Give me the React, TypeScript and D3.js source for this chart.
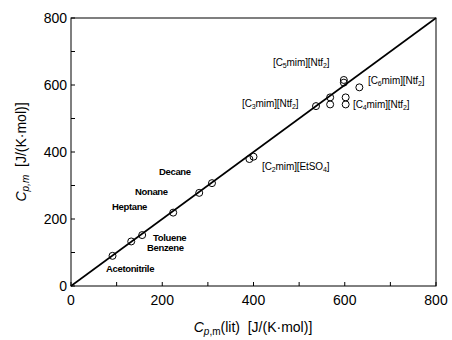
import React, { useRef, useEffect } from "react";
import * as d3 from "d3";

// literature vs. measured heat capacities
const litValues = [91, 132, 156, 224, 281, 309, 391, 400, 537, 568, 568, 602, 602, 598, 598, 632];
const measValues = [90, 133, 152, 219, 278, 307, 379, 386, 537, 563, 542, 563, 542, 615, 607, 593];

const compoundNames = ["Acetonitrile", "Benzene", "Toluene", "Heptane", "Nonane", "Decane"];
const compoundLabelX = [106, 147, 153, 112, 135, 159];
const compoundLabelY = [272, 251, 241, 210, 195, 175];

// ionic liquid labels: [prefix, sub1, middle, sub2, suffix]
const ilLabels = [
  ["[C", "5", "mim][Ntf", "2", "]"],
  ["[C", "6", "mim][Ntf", "2", "]"],
  ["[C", "3", "mim][Ntf", "2", "]"],
  ["[C", "4", "mim][Ntf", "2", "]"],
  ["[C", "2", "mim][EtSO", "4", "]"],
];
const ilLabelX = [273, 368, 242, 353, 262];
const ilLabelY = [66, 84, 107, 108, 170];

const majorTicks = [0, 200, 400, 600, 800];
const minorTicks = [100, 300, 500, 700];

function App() {
  const ref = useRef<SVGSVGElement>(null);
  const W = 452, H = 340;
  const left = 71, right = 436, top = 18, bottom = 286;

  useEffect(() => {
    const svg = d3.select(ref.current);
    svg.selectAll("*").remove();

    const x = d3.scaleLinear().domain([0, 800]).range([left, right]);
    const y = d3.scaleLinear().domain([0, 800]).range([bottom, top]);
    const font = "Liberation Sans, Arial, sans-serif";

    // frame
    svg.append("rect")
      .attr("x", left).attr("y", top)
      .attr("width", right - left).attr("height", bottom - top)
      .attr("fill", "none").attr("stroke", "black").attr("stroke-width", 1);

    // ticks
    const allTicks = majorTicks.concat(minorTicks);
    allTicks.forEach((t) => {
      svg.append("line")
        .attr("x1", x(t)).attr("x2", x(t))
        .attr("y1", bottom).attr("y2", bottom - 4)
        .attr("stroke", "black");
      svg.append("line")
        .attr("x1", left).attr("x2", left + 4)
        .attr("y1", y(t)).attr("y2", y(t))
        .attr("stroke", "black");
    });

    majorTicks.forEach((t) => {
      svg.append("text")
        .attr("x", x(t)).attr("y", bottom + 19)
        .attr("text-anchor", "middle")
        .style("font-family", font).style("font-size", "14px")
        .text(t);
      svg.append("text")
        .attr("x", left - 4).attr("y", y(t) + 5)
        .attr("text-anchor", "end")
        .style("font-family", font).style("font-size", "14px")
        .text(t);
    });

    // parity line
    svg.append("line")
      .attr("x1", x(0)).attr("y1", y(0))
      .attr("x2", x(800)).attr("y2", y(800))
      .attr("stroke", "black").attr("stroke-width", 1.6);

    // points
    svg.selectAll("circle.pt")
      .data(d3.range(litValues.length))
      .enter().append("circle")
      .attr("class", "pt")
      .attr("cx", (i) => x(litValues[i]))
      .attr("cy", (i) => y(measValues[i]))
      .attr("r", 3.5)
      .attr("fill", "none").attr("stroke", "black").attr("stroke-width", 1);

    // compound labels
    compoundNames.forEach((n, i) => {
      svg.append("text")
        .attr("x", compoundLabelX[i]).attr("y", compoundLabelY[i])
        .style("font-family", font).style("font-size", "9.5px")
        .style("font-weight", "bold").style("letter-spacing", "-0.35px")
        .text(n);
    });

    ilLabels.forEach((parts, i) => {
      const t = svg.append("text")
        .attr("x", ilLabelX[i]).attr("y", ilLabelY[i])
        .style("font-family", font).style("font-size", "10px")
        .style("letter-spacing", "-0.1px");
      t.append("tspan").text(parts[0]);
      t.append("tspan").attr("dy", 2).style("font-size", "7px").text(parts[1]);
      t.append("tspan").attr("dy", -2).text(parts[2]);
      t.append("tspan").attr("dy", 2).style("font-size", "7px").text(parts[3]);
      t.append("tspan").attr("dy", -2).text(parts[4]);
    });

    // x axis title
    const xt = svg.append("text")
      .attr("x", 253).attr("y", 332)
      .attr("text-anchor", "middle")
      .style("font-family", font).style("font-size", "14px");
    xt.append("tspan").style("font-style", "italic").text("C");
    xt.append("tspan").attr("dy", 3).style("font-size", "10px").style("font-style", "italic").text("p");
    xt.append("tspan").style("font-size", "10px").text(",m");
    xt.append("tspan").attr("dy", -3).text("(lit)\u00A0\u00A0[J/(K\u00B7mol)]");

    // y axis title
    const yt = svg.append("text")
      .attr("transform", `translate(26, ${(top + bottom) / 2}) rotate(-90)`)
      .attr("text-anchor", "middle")
      .style("font-family", font).style("font-size", "14px");
    yt.append("tspan").style("font-style", "italic").text("C");
    yt.append("tspan").attr("dy", 3).style("font-size", "10px").style("font-style", "italic").text("p,m");
    yt.append("tspan").attr("dy", -3).text("\u00A0\u00A0[J/(K\u00B7mol)]");
  }, []);

  return (
    <svg ref={ref} width={W} height={H} style={{ position: "absolute", left: 0, top: 0 }}></svg>
  );
}

export default App;
